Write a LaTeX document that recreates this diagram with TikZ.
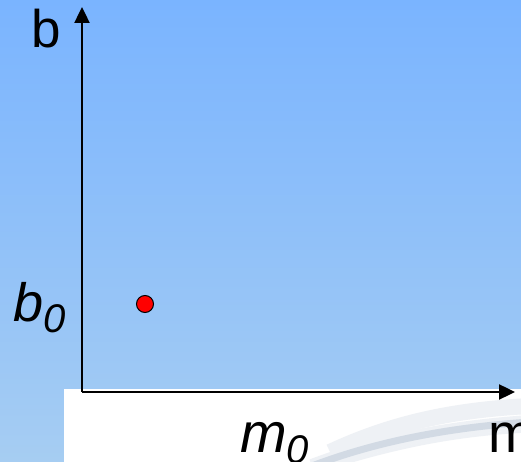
\documentclass[tikz,border=0pt]{standalone}
\usepackage{fontspec}
\setmainfont{Liberation Sans}
\usetikzlibrary{arrows.meta}
\definecolor{bgtop}{HTML}{7AB4FF}
\definecolor{bgbot}{HTML}{A6CDF2}
\definecolor{swoosh}{HTML}{D2DAE4}
\definecolor{swooshlight}{HTML}{EEF1F5}
\tikzset{
  axis/.style={line width=2.4pt,-{Triangle[length=16pt,width=15pt]}},
  lbl/.style={anchor=base west,inner sep=0pt,text=black},
  dot/.style={circle,fill=red,draw=black,line width=1pt,minimum size=17pt,inner sep=0pt}
}
\begin{document}
\begin{tikzpicture}[x=1pt,y=1pt]
\useasboundingbox (0,0) rectangle (521,462);
\shade[top color=bgtop,bottom color=bgbot] (0,0) rectangle (521,462);
\fill[white] (64,0) rectangle (521,73);
% faint swoosh
\draw[swooshlight,line width=16pt] (330,10) .. controls (390,38) and (450,52) .. (530,56);
\draw[swooshlight,line width=14pt] (312,-4) .. controls (370,18) and (440,34) .. (530,40);
\draw[swoosh,line width=7pt] (312,-4) .. controls (370,18) and (440,34) .. (530,40);
\draw[swooshlight,line width=3pt] (335,-4) .. controls (400,16) and (460,28) .. (530,31);
\coordinate (o) at (82,70);
\coordinate (ytop) at (82,455);
\coordinate (xend) at (515,70);
\draw[axis] (o) -- (ytop);
\draw[axis] (o) -- (xend);
\node[dot] (p) at (145,158) {};
\node[lbl,font=\fontsize{53}{60}\selectfont] (b) at (31,414) {b};
\node[lbl,font=\fontsize{54}{60}\selectfont\itshape] (b0) at (13,140) {b\raisebox{-11pt}{\fontsize{40}{44}\selectfont 0}};
\node[lbl,font=\fontsize{56}{60}\selectfont\itshape] (m0) at (240,9) {m\raisebox{-11pt}{\fontsize{40}{44}\selectfont 0}};
\node[lbl,font=\fontsize{55}{60}\selectfont] (m) at (488,9) {m};
\end{tikzpicture}
\end{document}
